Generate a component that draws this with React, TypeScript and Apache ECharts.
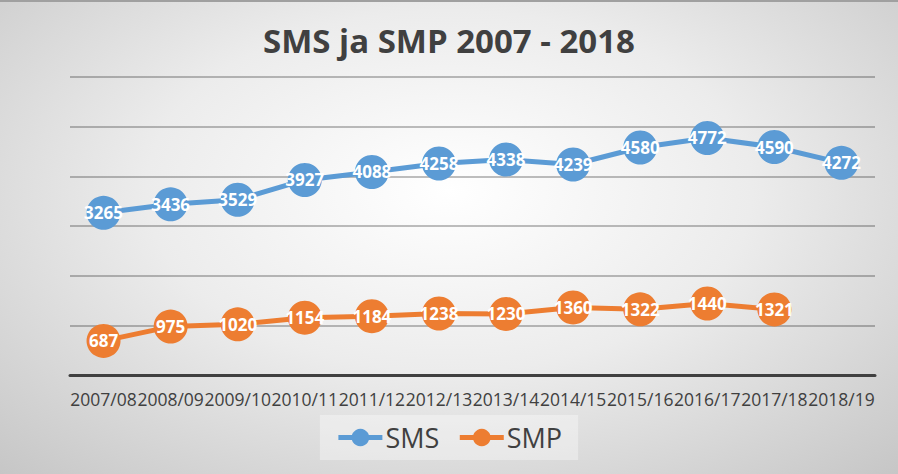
import React, { useEffect, useRef } from "react";
import * as echarts from "echarts";

const categories = [
  "2007/08", "2008/09", "2009/10", "2010/11", "2011/12", "2012/13",
  "2013/14", "2014/15", "2015/16", "2016/17", "2017/18", "2018/19",
];
const smsValues = [3265, 3436, 3529, 3927, 4088, 4258, 4338, 4239, 4580, 4772, 4590, 4272];
const smpValues = [687, 975, 1020, 1154, 1184, 1238, 1230, 1360, 1322, 1440, 1321];
const titleText = "SMS ja SMP 2007 - 2018";

export default function App() {
  const ref = useRef<HTMLDivElement>(null);
  useEffect(() => {
    document.body.style.margin = "0";
    if (!ref.current) return;
    const chart = echarts.init(ref.current, undefined, { renderer: "svg" });
    const label = {
      show: true,
      position: "inside" as const,
      color: "#ffffff",
      fontFamily: "Open Sans",
      fontWeight: "bold" as const,
      fontSize: 17,
    };
    chart.setOption({
      animation: false,
      backgroundColor: "transparent",
      title: {
        text: titleText,
        left: "center",
        top: 17,
        textStyle: {
          fontFamily: "Open Sans",
          fontWeight: "bold",
          fontSize: 33,
          color: "#404040",
        },
      },
      grid: { left: 70, right: 23, top: 75, bottom: 99, containLabel: false },
      legend: {
        bottom: 14,
        left: "center",
        data: ["SMS", "SMP"],
        itemWidth: 44,
        itemHeight: 22,
        itemGap: 18,
        padding: [9, 16],
        backgroundColor: "rgba(255,255,255,0.35)",
        lineStyle: { width: 5 },
        textStyle: { fontFamily: "Open Sans", fontSize: 27, color: "#404040", padding: [0, 0, 0, -2] },
      },
      xAxis: {
        type: "category",
        data: categories,
        boundaryGap: true,
        axisLine: { lineStyle: { color: "#404040", width: 3 } },
        axisTick: { show: false },
        axisLabel: {
          interval: 0,
          color: "#404040",
          fontFamily: "Open Sans",
          fontSize: 17.5,
          margin: 15,
        },
      },
      yAxis: {
        type: "value",
        min: 0,
        max: 6000,
        interval: 1000,
        axisLabel: { show: false },
        axisLine: { show: false },
        axisTick: { show: false },
        splitLine: { lineStyle: { color: "rgba(0,0,0,0.25)", width: 2 } },
      },
      series: [
        {
          name: "SMS",
          type: "line",
          data: smsValues,
          symbol: "circle",
          symbolSize: 34,
          itemStyle: { color: "#5b9bd5" },
          lineStyle: { color: "#5b9bd5", width: 5 },
          label,
        },
        {
          name: "SMP",
          type: "line",
          data: smpValues,
          symbol: "circle",
          symbolSize: 34,
          itemStyle: { color: "#ed7d31" },
          lineStyle: { color: "#ed7d31", width: 5 },
          label,
        },
      ],
    });
    return () => chart.dispose();
  }, []);
  return (
    <div
      ref={ref}
      style={{
        width: 898,
        height: 474,
        background:
          "radial-gradient(ellipse 75% 85% at 50% 40%, #ffffff 0%, #ececec 45%, #c4c4c4 100%)",
        boxSizing: "border-box",
        borderTop: "2px solid #a0a0a0",
      }}
    />
  );
}
